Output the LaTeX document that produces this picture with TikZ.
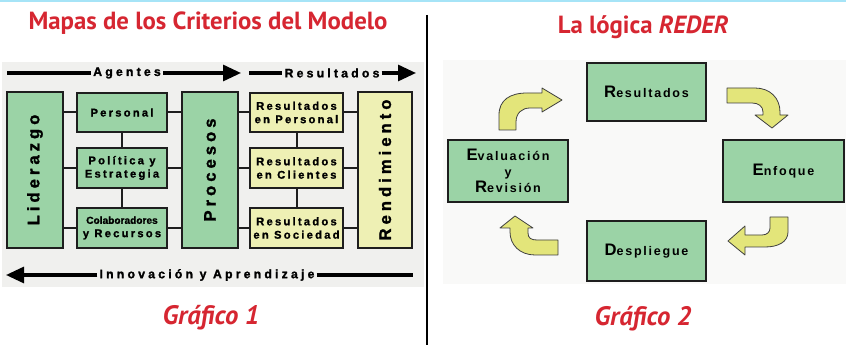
\documentclass[tikz,border=0pt]{standalone}
\usepackage{fontspec}
\setmainfont{Liberation Sans}
\newfontfamily\titlefont{PT Sans}
\newfontfamily\boxfont[LetterSpace=20,FakeBold=1.2]{Liberation Sans}
\newfontfamily\boxfontn[LetterSpace=0,FakeBold=1.2]{Liberation Sans}
\newfontfamily\rotfont[LetterSpace=24,FakeBold=1.5]{Liberation Sans}
\newfontfamily\labfont[LetterSpace=26,FakeBold=1.5]{Liberation Sans}
\newfontfamily\rfont[LetterSpace=14]{Liberation Sans}
\usetikzlibrary{arrows.meta}
\definecolor{titlered}{HTML}{D62631}
\definecolor{boxgreen}{HTML}{9BD3A6}
\definecolor{boxyellow}{HTML}{EEF0B4}
\definecolor{arrowyellow}{HTML}{E3E57A}
\definecolor{panelgray}{HTML}{F0F0EE}
\definecolor{panelfaint}{HTML}{F9F9F8}
\definecolor{topblue}{HTML}{A6E4F7}
\definecolor{darkline}{HTML}{1E1E1E}
\tikzset{
  title/.style={text=titlered, font=\titlefont\bfseries\fontsize{18.6pt}{21pt}\selectfont, inner sep=0},
  grafico/.style={text=titlered, font=\titlefont\bfseries\itshape\fontsize{20pt}{23pt}\selectfont, inner sep=0},
  lbox/.style={draw=darkline, line width=1.5pt, inner sep=0, align=center,
    font=\boxfont\bfseries\fontsize{8.4pt}{10pt}\selectfont},
  gbox/.style={lbox, fill=boxgreen},
  ybox/.style={lbox, fill=boxyellow},
  rotbox/.style={font=\rotfont\bfseries\fontsize{12.5pt}{14pt}\selectfont},
  conn/.style={draw=darkline, line width=1.5pt},
  bigarrow/.style={draw=black, line width=2.3pt, -{Triangle[length=13.5pt,width=12pt]}},
  bigline/.style={draw=black, line width=2.3pt},
  alabel/.style={inner sep=1.5pt, font=\labfont\bfseries\fontsize{9.2pt}{10pt}\selectfont},
  rbox/.style={draw=darkline, line width=1.1pt, fill=boxgreen, inner sep=0, align=center,
    font=\rfont\bfseries\fontsize{9.4pt}{12pt}\selectfont},
  curvarrow/.style={fill=arrowyellow, draw=darkline!85, line width=0.6pt, line join=round},
}
\newcommand{\BigL}[1]{{\fontsize{12.5pt}{12.5pt}\selectfont #1}}
\begin{document}
\begin{tikzpicture}[x=0.75pt,y=-0.75pt]
\useasboundingbox (0,0) rectangle (846,345);
\fill[white] (0,0) rectangle (846,345);
\fill[topblue] (0,0) rectangle (846,2);
% panels
\fill[panelgray] (2,62) rectangle (424,287);
\fill[panelfaint] (443,60) rectangle (846,284);
% divider
\draw[line width=1.6pt, black] (427,15) -- (427,345);

% titles
\node[title] (t1) at (208,23) {Mapas de los Criterios del Modelo};
\node[title] (t2) at (643,27) {La lógica \textit{REDER}};
\node[grafico] (g1) at (211,318) {Gráfico 1};
\node[grafico] (g2) at (643,319) {Gráfico 2};

% ---------- left diagram ----------
\node[gbox, minimum width=56*0.75pt, minimum height=156*0.75pt] (lid) at (35,170) {};
\node[rotbox, rotate=90] (lidt) at (lid.center) {Liderazgo};
\node[gbox, minimum width=90*0.75pt, minimum height=39*0.75pt] (per) at (122,112.5) {Personal};
\node[gbox, minimum width=90*0.75pt, minimum height=40*0.75pt] (pol) at (122,168) {Política y\\Estrategia};
\node[gbox, minimum width=90*0.75pt, minimum height=40*0.75pt] (col) at (122,228)
  {{\boxfontn\bfseries\fontsize{7.6pt}{10pt}\selectfont Colaboradores}\\y Recursos};
\node[gbox, minimum width=56*0.75pt, minimum height=156*0.75pt] (pro) at (210,170) {};
\node[rotbox, rotate=90] (prot) at (pro.center) {Procesos};
\node[ybox, minimum width=93*0.75pt, minimum height=39*0.75pt] (rp) at (296.5,112.5) {Resultados\\en Personal};
\node[ybox, minimum width=93*0.75pt, minimum height=40*0.75pt] (rc) at (296.5,168) {Resultados\\en Clientes};
\node[ybox, minimum width=93*0.75pt, minimum height=40*0.75pt] (rs) at (296.5,228) {Resultados\\en Sociedad};
\node[ybox, minimum width=54*0.75pt, minimum height=156*0.75pt] (ren) at (385,170) {};
\node[rotbox, rotate=90] (rent) at (ren.center) {Rendimiento};

% connectors
\foreach \b in {per,pol,col}{
  \draw[conn] (\b.west) -- (\b.west -| lid.east);
  \draw[conn] (\b.east) -- (\b.east -| pro.west);
}
\foreach \b in {rp,rc,rs}{
  \draw[conn] (\b.west) -- (\b.west -| pro.east);
  \draw[conn] (\b.east) -- (\b.east -| ren.west);
}
\draw[conn] (per.south) -- (pol.north);
\draw[conn] (pol.south) -- (col.north);
\draw[conn] (rp.south) -- (rc.north);
\draw[conn] (rc.south) -- (rs.north);

% top arrows
\node[alabel] (ag) at (127,73) {Agentes};
\coordinate (ag0) at (7,73);
\coordinate (ag1) at (241,73);
\draw[bigline] (ag0) -- (ag.west);
\draw[bigarrow] (ag.east) -- (ag1);
\node[alabel] (re) at (332,73) {Resultados};
\coordinate (re0) at (249,73);
\coordinate (re1) at (416,73);
\draw[bigline] (re0) -- (re.west);
\draw[bigarrow] (re.east) -- (re1);
% bottom arrow
\node[alabel] (ia) at (207,275) {Innovación y Aprendizaje};
\coordinate (ia0) at (6,275);
\coordinate (ia1) at (413,275);
\draw[bigarrow] (ia.west) -- (ia0);
\draw[bigline] (ia.east) -- (ia1);

% ---------- right diagram ----------
\node[rbox, minimum width=119*0.75pt, minimum height=58*0.75pt] (res) at (646.5,92) {\BigL{R}esultados};
\node[rbox, minimum width=120*0.75pt, minimum height=62*0.75pt] (eva) at (508,171) {\BigL{E}valuación\\y\\\BigL{R}evisión};
\node[rbox, minimum width=121*0.75pt, minimum height=62*0.75pt] (enf) at (783.5,171) {\BigL{E}nfoque};
\node[rbox, minimum width=119*0.75pt, minimum height=60*0.75pt] (des) at (646.5,251) {\BigL{D}espliegue};

% curved arrows
\path[curvarrow] (499,130) -- (499,115) .. controls (499,100) and (510,93) .. (527,93)
  -- (542,93) -- (542,88) -- (562,100) -- (542,112) -- (542,108) -- (530,108)
  .. controls (522,108) and (516,113) .. (516,122) -- (516,130) -- cycle;
\path[curvarrow] (727,88) -- (755,88) .. controls (770,88) and (780,98) .. (780,112)
  -- (780,115) -- (788,115) -- (772,128) -- (755,115) -- (763,115) -- (763,112)
  .. controls (763,106) and (758,103) .. (752,103) -- (727,103) -- cycle;
\path[curvarrow] (770,217) -- (788,217) -- (788,232) .. controls (788,242) and (778,247) .. (765,247)
  -- (745,247) -- (745,255) -- (728,241) -- (745,226) -- (745,235) -- (762,235)
  .. controls (767,235) and (770,232) .. (770,228) -- cycle;
\path[curvarrow] (558,240) -- (558,255) -- (535,255) .. controls (520,255) and (510,245) .. (510,232)
  -- (510,228) -- (500,228) -- (515,216) -- (533,228) -- (528,228) -- (528,233)
  .. controls (528,238) and (531,240) .. (537,240) -- cycle;
\end{tikzpicture}
\end{document}
